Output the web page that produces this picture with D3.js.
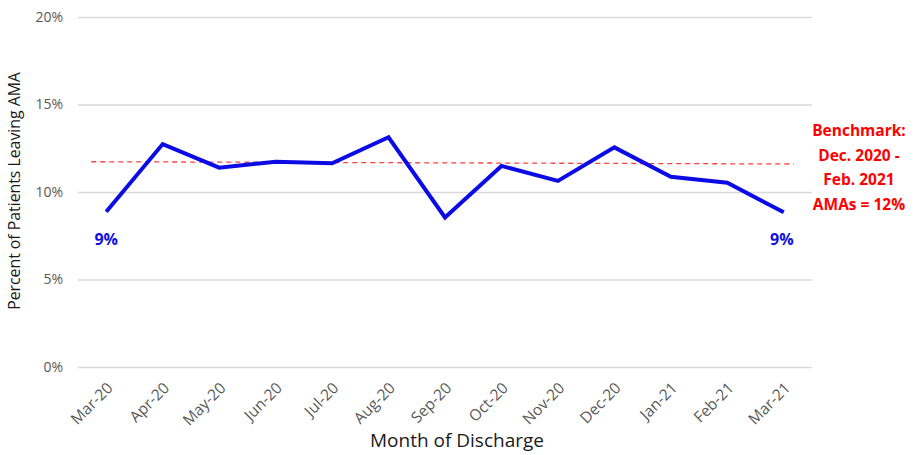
<!DOCTYPE html>
<html>
<head>
<meta charset="utf-8">
<script src="https://cdn.jsdelivr.net/npm/d3@7"></script>
<style>
  body { margin: 0; background: #fff; }
  svg { font-family: "Open Sans", sans-serif; }
</style>
</head>
<body>
<div id="chart"></div>
<script>
// DATA
var months = ["Mar-20", "Apr-20", "May-20", "Jun-20", "Jul-20", "Aug-20", "Sep-20",
              "Oct-20", "Nov-20", "Dec-20", "Jan-21", "Feb-21", "Mar-21"];
var amaPct = [8.87, 12.74, 11.39, 11.73, 11.64, 13.13, 8.55,
              11.49, 10.63, 12.55, 10.87, 10.53, 8.84];
var yTicks = [0, 5, 10, 15, 20];
var benchmark = [11.73, 11.6]; // start / end of the dashed line
var benchmarkText = ["Benchmark:", "Dec. 2020 -", "Feb. 2021", "AMAs = 12%"];
var endLabels = ["9%", "9%"];

// SIZE
var svgWidth = 915;
var svgHeight = 455;
var margins = { top: 17, bottom: 88, left: 78, right: 103 };
var width = svgWidth - margins.left - margins.right;
var height = svgHeight - margins.top - margins.bottom;

var svg = d3.select("#chart")
    .append("svg")
    .attr("width", svgWidth)
    .attr("height", svgHeight)
    .append("g")
    .attr("transform", "translate(" + margins.left + "," + margins.top + ")");

// Scales
var x = d3.scalePoint()
    .domain(months)
    .range([0, width])
    .padding(0.5);

var y = d3.scaleLinear()
    .domain([0, 20])
    .range([height, 0]);

// Gridlines + y labels
var yAxis = svg.append("g")
    .call(d3.axisLeft(y)
        .tickValues(yTicks)
        .tickSize(-width)
        .tickPadding(15)
        .tickFormat(d => d + "%"));
yAxis.select(".domain").remove();
yAxis.selectAll("line").attr("stroke", "#d9d9d9").attr("stroke-width", 1.3);
yAxis.selectAll("text")
    .attr("fill", "#595959")
    .style("font-size", "14px")
    .style("font-family", "Open Sans, sans-serif");

// x labels (rotated)
var xAxis = svg.append("g")
    .attr("transform", "translate(0," + height + ")")
    .call(d3.axisBottom(x).tickSize(0).tickPadding(0));
xAxis.select(".domain").remove();
xAxis.selectAll("text")
    .attr("fill", "#595959")
    .style("font-size", "15.5px")
    .style("font-family", "Open Sans, sans-serif")
    .attr("text-anchor", "end")
    .attr("dy", 0)
    .attr("transform", "translate(7,22) rotate(-45)");

// Benchmark dashed line
var first = x(months[0]), last = x(months[months.length - 1]);
svg.append("line")
    .attr("x1", first - 15)
    .attr("x2", last + 10)
    .attr("y1", y(benchmark[0]))
    .attr("y2", y(benchmark[1]))
    .attr("stroke", "#ff4040")
    .attr("stroke-width", 1.3)
    .attr("stroke-dasharray", "5,4");

// Data line
svg.append("path")
    .datum(amaPct)
    .attr("fill", "none")
    .attr("stroke", "#0b0be6")
    .attr("stroke-width", 4)
    .attr("stroke-linejoin", "miter")
    .attr("d", d3.line()
        .x((d, i) => x(months[i]))
        .y(d => y(d)));

// End labels
svg.append("text")
    .attr("x", first)
    .attr("y", y(amaPct[0]) + 33)
    .attr("text-anchor", "middle")
    .attr("fill", "#1010e0")
    .style("font-size", "16px")
    .style("font-weight", "bold")
    .text(endLabels[0]);
svg.append("text")
    .attr("x", last - 2)
    .attr("y", y(amaPct[amaPct.length - 1]) + 33)
    .attr("text-anchor", "middle")
    .attr("fill", "#1010e0")
    .style("font-size", "16px")
    .style("font-weight", "bold")
    .text(endLabels[1]);

// Benchmark annotation
svg.append("text")
    .attr("x", width + 47)
    .attr("y", 119)
    .attr("text-anchor", "middle")
    .attr("fill", "#ff0000")
    .style("font-size", "15.5px")
    .style("font-weight", "bold")
    .selectAll("tspan")
    .data(benchmarkText)
    .enter()
    .append("tspan")
    .attr("x", width + 47)
    .attr("dy", (d, i) => i == 0 ? 0 : 24.7)
    .text(d => d);

// Axis titles
svg.append("text")
    .attr("x", width / 2 + 12)
    .attr("y", height + 80)
    .attr("text-anchor", "middle")
    .attr("fill", "#1a1a1a")
    .style("font-size", "19px")
    .text("Month of Discharge");

svg.append("text")
    .attr("transform", "translate(" + (-58) + "," + (height / 2 - 1) + ") rotate(-90)")
    .attr("text-anchor", "middle")
    .attr("fill", "#1a1a1a")
    .style("font-size", "15.8px")
    .text("Percent of Patients Leaving AMA");
</script>
</body>
</html>
